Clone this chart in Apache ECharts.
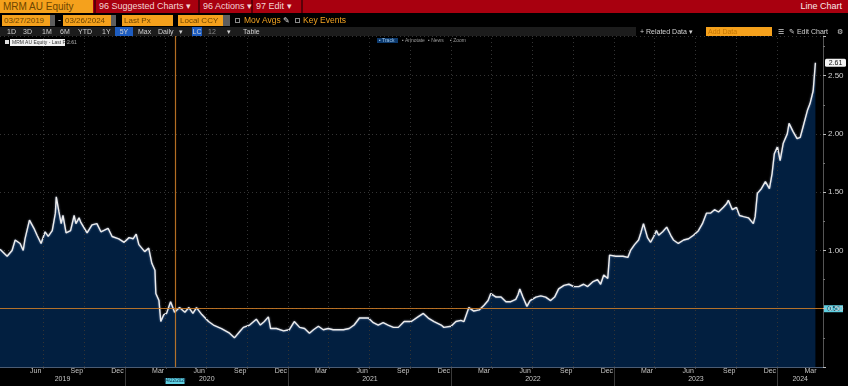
<!DOCTYPE html>
<html>
<head>
<meta charset="utf-8">
<script src="https://cdn.jsdelivr.net/npm/echarts@6/dist/echarts.min.js"></script>
<style>
html,body{margin:0;padding:0;background:#000;}
#wrap{position:relative;width:848px;height:386px;overflow:hidden;background:#000;font-family:'Liberation Sans',Arial,sans-serif;}
#chart{position:absolute;left:0;top:0;width:848px;height:386px;}
.ab{position:absolute;white-space:nowrap;box-sizing:border-box;}
.red{background:#a8000f;top:0;height:13px;}
.rt{color:#f3d4d4;font-size:9px;line-height:13px;}
.or{background:#f5a11c;color:#6e4600;font-size:8px;line-height:11px;top:15px;height:11px;padding-left:2px;}
.gb{background:#5e5e5e;top:15px;height:11px;}
.ot{color:#f2a321;font-size:8.5px;line-height:11px;top:15px;}
.cb{top:18px;width:5px;height:5px;border:1px solid #8a8a8a;}
.b3{color:#d2d2d2;font-size:7px;line-height:9px;top:27px;}
.blue{background:#1d5cc0;}
.tab{color:#9a9a9a;font-size:5px;line-height:5px;top:38px;}
</style>
</head>
<body>
<div id="wrap">
<div id="chart"></div>

<!-- row 1 -->
<div class="ab" style="left:0;top:0;width:93px;height:13px;background:#f5a11c;color:#6e4600;font-size:10px;line-height:13px;padding-left:3px;">MRM AU Equity</div>
<div class="ab red" style="left:93px;width:755px;"></div>
<div class="ab" style="left:94px;top:0;width:2px;height:13px;background:#5a0008"></div>
<div class="ab" style="left:198px;top:0;width:2px;height:13px;background:#5a0008"></div>
<div class="ab" style="left:251px;top:0;width:2px;height:13px;background:#5a0008"></div>
<div class="ab" style="left:301px;top:0;width:2px;height:13px;background:#5a0008"></div>
<div class="ab rt" style="left:99px;top:0;">96 Suggested Charts ▾</div>
<div class="ab rt" style="left:203px;top:0;">96 Actions ▾</div>
<div class="ab rt" style="left:256px;top:0;">97 Edit ▾</div>
<div class="ab rt" style="right:6px;top:0;color:#f8e8e8;">Line Chart</div>

<!-- row 2 -->
<div class="ab or" style="left:2px;width:48px;">03/27/2019</div>
<div class="ab gb" style="left:50px;width:5px;"></div>
<div class="ab" style="left:58px;top:15px;color:#ddd;font-size:9px;line-height:11px;">-</div>
<div class="ab or" style="left:63px;width:48px;">03/26/2024</div>
<div class="ab gb" style="left:111px;width:5px;"></div>
<div class="ab or" style="left:122px;width:51px;">Last Px</div>
<div class="ab or" style="left:178px;width:45px;">Local CCY</div>
<div class="ab gb" style="left:223px;width:7px;"></div>
<div class="ab cb" style="left:235px;"></div>
<div class="ab ot" style="left:244px;">Mov Avgs</div>
<div class="ab" style="left:283px;top:15px;color:#ddd;font-size:8px;line-height:11px;">✎</div>
<div class="ab cb" style="left:295px;"></div>
<div class="ab ot" style="left:303px;">Key Events</div>

<!-- row 3 -->
<div class="ab" style="left:0;top:27px;width:636px;height:9px;background:#1c1c1c;"></div>
<div class="ab b3" style="left:7px;">1D</div>
<div class="ab b3" style="left:23px;">3D</div>
<div class="ab b3" style="left:42px;">1M</div>
<div class="ab b3" style="left:60px;">6M</div>
<div class="ab b3" style="left:78px;">YTD</div>
<div class="ab b3" style="left:102px;">1Y</div>
<div class="ab b3 blue" style="left:115px;width:18px;height:9px;text-align:center;">5Y</div>
<div class="ab b3" style="left:138px;">Max</div>
<div class="ab b3" style="left:158px;">Daily</div>
<div class="ab b3" style="left:179px;">▾</div>
<div class="ab b3 blue" style="left:192px;width:10px;height:9px;text-align:center;">LC</div>
<div class="ab b3" style="left:208px;color:#888;">12</div>
<div class="ab b3" style="left:227px;">▾</div>
<div class="ab b3" style="left:243px;">Table</div>
<div class="ab b3" style="left:640px;">+ Related Data ▾</div>
<div class="ab" style="left:706px;top:27px;width:66px;height:9px;background:#f5a11c;color:#c27400;font-size:7px;line-height:9px;padding-left:2px;">Add Data</div>
<div class="ab b3" style="left:778px;">☰</div>
<div class="ab b3" style="left:789px;">✎ Edit Chart</div>
<div class="ab b3" style="left:837px;">⚙</div>

<!-- row 4 legend -->
<div class="ab" style="left:5px;top:40px;width:4px;height:4px;background:#ddd;"></div>
<div class="ab" style="left:10px;top:39px;width:55px;height:7px;background:#f2f2f2;color:#333;font-size:5px;line-height:7px;padding-left:2px;">MRM AU Equity - Last Price</div>
<div class="ab" style="left:67px;top:39px;color:#aaa;font-size:5px;line-height:7px;">2.61</div>
<div class="ab tab" style="left:377px;width:21px;height:5px;background:#0d3a6e;color:#9bc4e8;padding-left:2px;">▪ Track</div>
<div class="ab tab" style="left:402px;">▪ Annotate</div>
<div class="ab tab" style="left:428px;">▪ News</div>
<div class="ab tab" style="left:450px;">▪ Zoom</div>
</div>

<script>
// ---- data ----
const dates = [
'2019-03-27','2019-04-12','2019-04-23','2019-04-30','2019-05-11','2019-05-18','2019-05-22','2019-06-01','2019-06-11','2019-06-18',
'2019-06-27','2019-07-06','2019-07-13','2019-07-22','2019-07-29','2019-07-31','2019-08-06','2019-08-11','2019-08-15','2019-08-22',
'2019-09-01','2019-09-09','2019-09-13','2019-09-20','2019-09-24','2019-10-08','2019-10-19','2019-10-30','2019-11-08','2019-11-24',
'2019-12-03','2019-12-18','2019-12-30','2020-01-10','2020-01-19','2020-01-26','2020-02-01','2020-02-14','2020-02-23','2020-03-01',
'2020-03-08','2020-03-10','2020-03-17','2020-03-21','2020-03-28','2020-04-03','2020-04-12','2020-04-21','2020-05-02','2020-05-14',
'2020-05-23','2020-06-01','2020-06-09','2020-06-21','2020-07-06','2020-07-17','2020-08-04','2020-08-22','2020-09-02','2020-09-13',
'2020-09-22','2020-10-06','2020-10-21','2020-10-30','2020-11-08','2020-11-17','2020-11-22','2020-12-05','2020-12-21','2021-01-03',
'2021-01-14','2021-01-26','2021-02-06','2021-02-17','2021-02-26','2021-03-09','2021-03-20','2021-03-31','2021-04-11','2021-04-23',
'2021-05-04','2021-05-17','2021-05-28','2021-06-09','2021-06-20','2021-06-29','2021-07-10','2021-07-21','2021-08-01','2021-08-12',
'2021-08-24','2021-09-04','2021-09-17','2021-10-03','2021-10-18','2021-10-30','2021-11-10','2021-11-23','2021-12-09','2021-12-15',
'2021-12-31','2022-01-11','2022-01-22','2022-01-29','2022-02-09','2022-02-20','2022-03-04','2022-03-15','2022-03-24','2022-03-30',
'2022-04-11','2022-04-22','2022-05-03','2022-05-14','2022-05-25','2022-05-30','2022-06-03','2022-06-10','2022-06-19','2022-06-26',
'2022-07-09','2022-07-20','2022-07-31','2022-08-11','2022-08-20','2022-08-29','2022-09-10','2022-09-21','2022-10-02','2022-10-13',
'2022-10-24','2022-11-02','2022-11-13','2022-11-24','2022-12-01','2022-12-08','2022-12-17','2022-12-21','2023-01-04','2023-01-20',
'2023-01-31','2023-02-06','2023-02-15','2023-02-24','2023-03-01','2023-03-07','2023-03-16','2023-03-23','2023-03-30','2023-04-05',
'2023-04-10','2023-04-19','2023-04-28','2023-05-07','2023-05-13','2023-05-24','2023-06-05','2023-06-16','2023-06-27','2023-07-08',
'2023-07-17','2023-07-26','2023-08-04','2023-08-13','2023-08-22','2023-09-02','2023-09-09','2023-09-13','2023-09-22','2023-10-01',
'2023-10-08','2023-10-17','2023-10-28','2023-11-08','2023-11-12','2023-11-17','2023-11-26','2023-12-05','2023-12-09','2023-12-14',
'2023-12-20','2023-12-25','2024-01-01','2024-01-07','2024-01-14','2024-01-23','2024-01-27','2024-02-05','2024-02-14','2024-02-21',
'2024-02-28','2024-03-08','2024-03-14','2024-03-21','2024-03-26'
];
const prices = [
1.01,0.95,1.00,1.09,1.06,1.00,1.10,1.26,1.19,1.13,
1.06,1.16,1.12,1.17,1.32,1.46,1.33,1.23,1.30,1.15,
1.17,1.30,1.23,1.28,1.24,1.15,1.22,1.23,1.16,1.19,
1.12,1.10,1.07,1.11,1.10,1.14,1.05,0.99,1.02,0.89,
0.83,0.63,0.57,0.39,0.45,0.46,0.56,0.47,0.51,0.47,
0.51,0.46,0.51,0.45,0.39,0.36,0.33,0.29,0.25,0.30,
0.34,0.36,0.41,0.36,0.39,0.43,0.33,0.33,0.31,0.32,
0.39,0.34,0.33,0.29,0.32,0.35,0.32,0.33,0.32,0.32,
0.32,0.33,0.36,0.42,0.42,0.42,0.38,0.36,0.38,0.36,
0.34,0.34,0.39,0.39,0.43,0.46,0.42,0.39,0.36,0.34,
0.35,0.39,0.40,0.39,0.51,0.48,0.49,0.53,0.57,0.63,
0.60,0.60,0.56,0.56,0.58,0.62,0.67,0.60,0.52,0.57,
0.60,0.61,0.60,0.57,0.60,0.67,0.70,0.71,0.69,0.69,
0.71,0.69,0.73,0.75,0.71,0.79,0.76,0.96,0.95,0.95,
0.94,1.00,1.05,1.09,1.15,1.23,1.11,1.07,1.12,1.17,
1.13,1.16,1.20,1.13,1.09,1.06,1.09,1.10,1.13,1.17,
1.23,1.32,1.32,1.35,1.33,1.37,1.40,1.43,1.35,1.37,
1.30,1.29,1.28,1.23,1.29,1.49,1.53,1.59,1.60,1.53,
1.66,1.83,1.89,1.77,1.92,2.00,2.09,2.02,1.96,1.97,
2.07,2.20,2.26,2.37,2.61
];
const axisStart = '2019-03-27';
const axisEnd = '2024-04-12';
const monthLabelDates = ['2019-06-15','2019-09-15','2019-12-15','2020-03-15','2020-06-15','2020-09-15','2020-12-15','2021-03-15','2021-06-15','2021-09-15','2021-12-15','2022-03-15','2022-06-15','2022-09-15','2022-12-15','2023-03-15','2023-06-15','2023-09-15','2023-12-15','2024-03-15'];
const monthLabelNames = ['Jun','Sep','Dec','Mar','Jun','Sep','Dec','Mar','Jun','Sep','Dec','Mar','Jun','Sep','Dec','Mar','Jun','Sep','Dec','Mar'];
const yearNames = ['2019','2020','2021','2022','2023','2024'];
const yearStarts = ['2020-01-01','2021-01-01','2022-01-01','2023-01-01','2024-01-01'];
const quarterLines = ['2019-07-01','2019-10-01','2020-01-01','2020-04-01','2020-07-01','2020-10-01','2021-01-01','2021-04-01','2021-07-01','2021-10-01','2022-01-01','2022-04-01','2022-07-01','2022-10-01','2023-01-01','2023-04-01','2023-07-01','2023-10-01','2024-01-01'];
const crossDate = '2020-04-22';
const crossDateText = '04/22/2020';
const crossValue = 0.50;
const lastValue = 2.61;

// ---- chart ----
const chart = echarts.init(document.getElementById('chart'), null, {renderer:'canvas'});
const seriesData = dates.map((d,i)=>[d, prices[i]]);
const gridStyle = {color:'#343434', type:[1,3], width:1};
const crossStyle = {color:'rgba(210,128,40,0.85)', type:'solid', width:1.2};
const markData = quarterLines.map(d=>({xAxis:d, lineStyle:gridStyle}));
markData.push({xAxis:crossDate, lineStyle:crossStyle});
markData.push({yAxis:crossValue, lineStyle:crossStyle});

chart.setOption({
  animation:false,
  backgroundColor:'#000',
  grid:{left:0, right:25, top:36, bottom:19, containLabel:false},
  xAxis:{
    type:'time', min:axisStart, max:axisEnd,
    axisLine:{show:true, lineStyle:{color:'#4b5c74', width:1}},
    axisTick:{show:false}, axisLabel:{show:false}, splitLine:{show:false}
  },
  yAxis:{
    type:'value', position:'right', min:0, max:2.84, interval:0.5,
    axisLine:{show:true, lineStyle:{color:'#555', width:1}},
    axisTick:{show:true, length:3, lineStyle:{color:'#bbb'}},
    minorTick:{show:true, splitNumber:2, length:2, lineStyle:{color:'#777'}},
    axisLabel:{color:'#cfcfcf', fontSize:8, margin:5, fontFamily:'Liberation Sans',
      showMaxLabel:false, formatter:v=> v===0 ? '' : v.toFixed(2)},
    splitLine:{show:true, lineStyle:gridStyle}
  },
  series:[{
    type:'line', data:seriesData, symbol:'none', smooth:false,
    lineStyle:{color:'#ececec', width:1.4, shadowColor:'rgba(170,190,230,0.7)', shadowBlur:2},
    areaStyle:{color:'#021f40', opacity:1},
    markLine:{silent:true, symbol:'none', label:{show:false}, animation:false, data:markData}
  }]
});

// ---- axis labels & tags placed through the library's scales ----
const px = d => chart.convertToPixel({xAxisIndex:0}, +echarts.number.parseDate(d));
const py = v => chart.convertToPixel({yAxisIndex:0}, v);
const g = [];
const labFont = '7px "Liberation Sans", Arial, sans-serif';
monthLabelDates.forEach((d,i)=>{
  g.push({type:'text', x:px(d), y:371.5, silent:true,
    style:{text:monthLabelNames[i], fill:'#c4c4c4', font:labFont, textAlign:'center', textVerticalAlign:'middle'}});
});
const xL = px(axisStart), xR = px(axisEnd);
const bounds = [xL].concat(yearStarts.map(px)).concat([xR]);
yearNames.forEach((y,i)=>{
  g.push({type:'text', x:(bounds[i]+bounds[i+1])/2, y:379.5, silent:true,
    style:{text:y, fill:'#c4c4c4', font:labFont, textAlign:'center', textVerticalAlign:'middle'}});
});
yearStarts.forEach(d=>{
  const x = Math.round(px(d))+0.5;
  g.push({type:'line', silent:true, shape:{x1:x, y1:367, x2:x, y2:386}, style:{stroke:'#3a3a3a', lineWidth:1}});
});
quarterLines.forEach(d=>{
  const x = Math.round(px(d))+0.5;
  g.push({type:'line', silent:true, shape:{x1:x, y1:367, x2:x, y2:369}, style:{stroke:'#4a4a4a', lineWidth:1}});
});
// crosshair value tag on y axis
const yc = py(crossValue);
g.push({type:'rect', silent:true, shape:{x:824, y:yc-3.5, width:19, height:7}, style:{fill:'#5fd0e2'}});
g.push({type:'text', silent:true, x:833.5, y:yc, style:{text:crossValue.toFixed(2), fill:'#0a2a44', font:'6.5px "Liberation Sans", Arial', textAlign:'center', textVerticalAlign:'middle'}});
// crosshair date tag on x axis
const xc = px(crossDate);
g.push({type:'rect', silent:true, shape:{x:xc-9.5, y:378, width:19, height:6}, style:{fill:'#5fd0e2'}});
g.push({type:'text', silent:true, x:xc, y:381, style:{text:crossDateText, fill:'#0a2a44', font:'4.5px "Liberation Sans", Arial', textAlign:'center', textVerticalAlign:'middle'}});
// last price tag
const yl = py(lastValue);
g.push({type:'rect', silent:true, shape:{x:825, y:yl-4, width:21, height:8, r:1.5}, style:{fill:'#f4f4f4'}});
g.push({type:'text', silent:true, x:835.5, y:yl, style:{text:lastValue.toFixed(2), fill:'#111', font:'7px "Liberation Sans", Arial', textAlign:'center', textVerticalAlign:'middle'}});
chart.setOption({graphic:g});
</script>
</body>
</html>
